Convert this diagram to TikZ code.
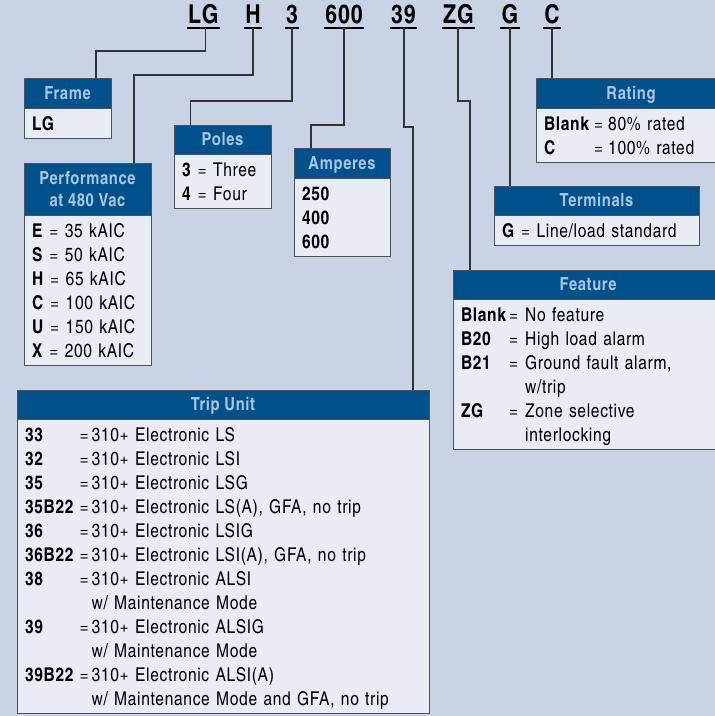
\documentclass[tikz,border=0pt]{standalone}
\usepackage{fontspec}
\setmainfont{texgyreheroscn}[Extension=.otf, UprightFont=*-regular, BoldFont=*-bold, ItalicFont=*-italic, BoldItalicFont=*-bolditalic, LetterSpace=3.5]
\usepackage{array}
\usetikzlibrary{positioning}
\definecolor{bgblue}{HTML}{C8D4E6}
\definecolor{hdblue}{HTML}{00518A}
\definecolor{hdtext}{HTML}{A8C6E8}
\definecolor{bodyfill}{HTML}{E8EDF5}
\definecolor{edge}{HTML}{4A535C}
\definecolor{wire}{HTML}{333333}
\newcommand\rowstrut{\rule[-4.5pt]{0pt}{24pt}}
\renewcommand\arraystretch{0}

\begin{document}
\begin{tikzpicture}[
    x=1pt, y=-1pt,
    every node/.style={font=\fontsize{19}{24}\selectfont, outer sep=0pt},
    code/.style={font=\bfseries\fontsize{26}{26}\selectfont, anchor=south, inner xsep=1.5pt, inner ysep=4.5pt, text height=18.7pt, text depth=0pt},
    header/.style={draw=edge, fill=hdblue, text=hdtext, font=\bfseries\fontsize{18}{21.7}\selectfont, anchor=north west, inner sep=0pt, minimum height=30pt, minimum width=#1},
    oneline/.style={text height=12.9pt, text depth=0pt},
    body/.style={draw=edge, fill=bodyfill, anchor=north west, inner xsep=8pt, inner ysep=3pt, text width=#1, align=left},
    link/.style={draw=wire, line width=1.1pt},
    uline/.style={line width=2pt}
]

% background and page size
\fill[bgblue] (0,0) rectangle (715,716);
\useasboundingbox (0,0) rectangle (715,716);

% catalogue number
\node (lg) [code] at (203.3,28) {LG};
\node (h) [code] at (253,28) {H};
\node (three) [code] at (292,28) {3};
\node (six) [code] at (344,28) {600};
\node (tn) [code] at (403.5,28) {39};
\node (zg) [code] at (458.5,28) {ZG};
\node (g) [code] at (510,28) {G};
\node (c) [code] at (552,28) {C};
\foreach \n in {lg,h,three,six,tn,zg,g,c}
    \draw[uline] (\n.south west) -- (\n.south east);

% boxes
\node (frame) [header=87pt, oneline] at (24,78) {Frame};
\node (framebody) [body=71pt] at (frame.south west) {\begin{tabular}{@{}>{\rowstrut}l@{}}\textbf{LG}\end{tabular}};

\node (perf) [header=127pt, minimum height=52pt, align=center] at (24,163) {Performance\\at 480 Vac};
\node (perfbody) [body=111pt] at (perf.south west) {\begin{tabular}{@{}>{\rowstrut}l@{}}
\textbf{E} = 35 kAIC\\ \textbf{S} = 50 kAIC\\ \textbf{H} = 65 kAIC\\
\textbf{C} = 100 kAIC\\ \textbf{U} = 150 kAIC\\ \textbf{X} = 200 kAIC\end{tabular}};

\node (poles) [header=97pt, minimum height=29pt, oneline] at (174,125) {Poles};
\node (polesbody) [body=81pt] at (poles.south west) {\begin{tabular}{@{}>{\rowstrut}l@{}}
\textbf{3} = Three\\ \textbf{4} = Four\end{tabular}};

\node (amps) [header=96pt, oneline] at (294,148) {Amperes};
\node (ampsbody) [body=80pt] at (amps.south west) {\begin{tabular}{@{}>{\rowstrut\bfseries}l@{}}
250\\ 400\\ 600\end{tabular}};

\node (rating) [header=190pt, oneline] at (536,78) {Rating};
\node (ratingbody) [body=174pt] at (rating.south west) {\begin{tabular}{@{}>{\rowstrut\bfseries}l@{\hspace{5pt}}c@{\hspace{5pt}}l@{}}
Blank & = & 80\% rated\\ C & = & 100\% rated\end{tabular}};

\node (terms) [header=205pt, minimum height=29pt, oneline] at (494,186) {Terminals};
\node (termsbody) [body=189pt] at (terms.south west) {\begin{tabular}{@{}>{\rowstrut}l@{}}
\textbf{G} = Line/load standard\end{tabular}};

\node (feat) [header=270pt, minimum height=29pt, oneline] at (453,270) {Feature};
\node (featbody) [body=254pt] at (feat.south west) {\begin{tabular}{@{}>{\rowstrut\bfseries}l@{\hspace{3pt}}c@{\hspace{7pt}}l@{}}
Blank & = & No feature\\ B20 & = & High load alarm\\ B21 & = & Ground fault alarm,\\
 & & w/trip\\ ZG & = & Zone selective\\ & & interlocking\end{tabular}};

\node (trip) [header=412pt, minimum height=29pt, oneline] at (17,390) {Trip Unit};
\node (tripbody) [body=396pt] at (trip.south west) {\begin{tabular}{@{}>{\rowstrut\bfseries}l@{\hspace{6pt}}c@{\hspace{3pt}}l@{}}
33 & = & 310+ Electronic LS\\
32 & = & 310+ Electronic LSI\\
35 & = & 310+ Electronic LSG\\
35B22 & = & 310+ Electronic LS(A), GFA, no trip\\
36 & = & 310+ Electronic LSIG\\
36B22 & = & 310+ Electronic LSI(A), GFA, no trip\\
38 & = & 310+ Electronic ALSI\\
 & & w/ Maintenance Mode\\
39 & = & 310+ Electronic ALSIG\\
 & & w/ Maintenance Mode\\
39B22 & = & 310+ Electronic ALSI(A)\\
 & & w/ Maintenance Mode and GFA, no trip\end{tabular}};

% connectors
\draw[link] ([xshift=2.3pt]lg.south) -- ++(0,23) -| ([xshift=72pt]frame.north west);
\draw[link] (h.south) -- ++(0,47) -| ([xshift=110pt]perf.north west);
\draw[link] (three.south) -- ++(0,73) -| ([xshift=16.6pt]poles.north west);
\draw[link] (six.south) -- ++(0,97) -| ([xshift=17pt]amps.north west);
\draw[link] ([xshift=0.5pt]tn.south) -- ++(0,99) -| ([xshift=396pt]trip.north west);
\draw[link] ([xshift=-0.5pt]zg.south) -- ++(0,73) -| ([xshift=17pt]feat.north west);
\draw[link] (g.south) -- (g.south |- terms.north);
\draw[link] (c.south) -- (c.south |- rating.north);

\end{tikzpicture}
\end{document}
